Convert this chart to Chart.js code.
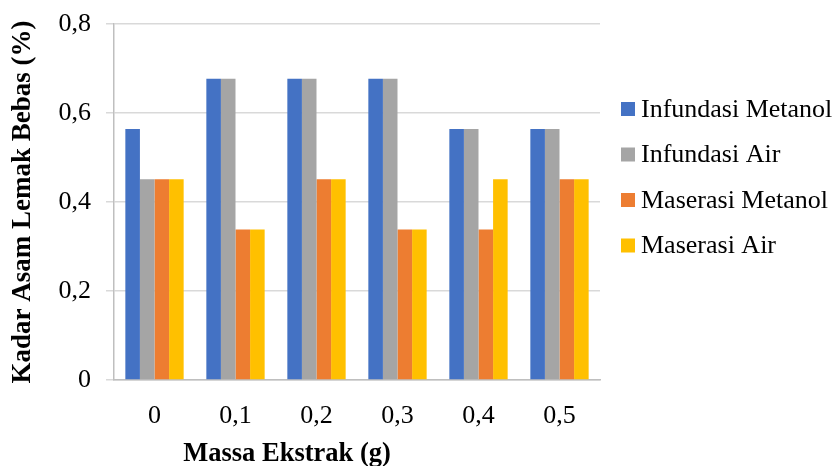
<!DOCTYPE html>
<html>
<head>
<meta charset="utf-8">
<script src="https://cdn.jsdelivr.net/npm/chart.js@4.4.1/dist/chart.umd.min.js"></script>
<style>
  html, body { margin: 0; padding: 0; background: #ffffff; }
  #wrap { width: 839px; height: 466px; }
</style>
</head>
<body>
<div id="wrap"><canvas id="c" width="839" height="466"></canvas></div>
<script>
// Free fatty acid content per extract mass
const categories = ['0', '0,1', '0,2', '0,3', '0,4', '0,5'];
const infundasiMetanol = [0.564, 0.677, 0.677, 0.677, 0.564, 0.564];
const infundasiAir     = [0.451, 0.677, 0.677, 0.677, 0.564, 0.564];
const maserasiMetanol  = [0.451, 0.338, 0.451, 0.338, 0.338, 0.451];
const maserasiAir      = [0.451, 0.338, 0.451, 0.338, 0.451, 0.451];
const seriesNames = ['Infundasi Metanol', 'Infundasi Air', 'Maserasi Metanol', 'Maserasi Air'];
const seriesColors = ['#4472C4', '#A5A5A5', '#ED7D31', '#FFC000'];
const yTicks = [0, 0.2, 0.4, 0.6, 0.8];

const serif = "'Liberation Serif', 'Times New Roman', serif";

// Legend on the right and the x-axis title, drawn on the canvas
const extras = {
  id: 'extras',
  afterDraw(chart) {
    const ctx = chart.ctx;
    ctx.save();
    ctx.font = '26px ' + serif;
    ctx.textBaseline = 'middle';
    ctx.textAlign = 'left';
    chart.data.datasets.forEach((ds, i) => {
      const y = 109 + i * 45.5;
      ctx.fillStyle = ds.backgroundColor;
      ctx.fillRect(621, y - 7, 14, 14);
      ctx.fillStyle = '#000000';
      ctx.fillText(ds.label, 641, y + 1);
    });
    ctx.font = 'bold 26.5px ' + serif;
    ctx.textAlign = 'center';
    ctx.fillText('Massa Ekstrak (g)', 287, 454);
    ctx.restore();
  }
};

const valueSets = [infundasiMetanol, infundasiAir, maserasiMetanol, maserasiAir];

new Chart(document.getElementById('c'), {
  type: 'bar',
  data: {
    labels: categories,
    datasets: valueSets.map((vals, i) => ({
      label: seriesNames[i],
      data: vals,
      backgroundColor: seriesColors[i],
      borderWidth: 0,
      categoryPercentage: 0.72,
      barPercentage: 1.0
    }))
  },
  options: {
    responsive: false,
    animation: false,
    devicePixelRatio: 1,
    layout: { padding: { top: 24, right: 239, left: 0, bottom: 0 } },
    plugins: {
      legend: { display: false },
      tooltip: { enabled: false }
    },
    scales: {
      x: {
        grid: { display: false },
        border: { display: true, color: '#BFBFBF', width: 1.5 },
        ticks: { color: '#000000', font: { family: serif, size: 26 }, padding: 13 },
        afterFit(scale) { scale.height = 86; }
      },
      y: {
        min: 0,
        max: 0.8,
        afterBuildTicks(scale) { scale.ticks = yTicks.map(v => ({ value: v })); },
        grid: { color: '#D9D9D9', lineWidth: 1.5, tickLength: 8, drawTicks: true },
        border: { display: true, color: '#BFBFBF', width: 1.5 },
        ticks: {
          color: '#000000',
          font: { family: serif, size: 26, lineHeight: 0.4 },
          padding: 15,
          callback: (v) => v === 0 ? '0' : v.toFixed(1).replace('.', ',')
        },
        title: {
          display: true,
          text: 'Kadar Asam Lemak Bebas (%)',
          color: '#000000',
          font: { family: serif, size: 27, weight: 'bold' },
          padding: { top: 7, bottom: 0 }
        },
        afterFit(scale) { scale.width = 114; }
      }
    }
  },
  plugins: [extras]
});
</script>
</body>
</html>
